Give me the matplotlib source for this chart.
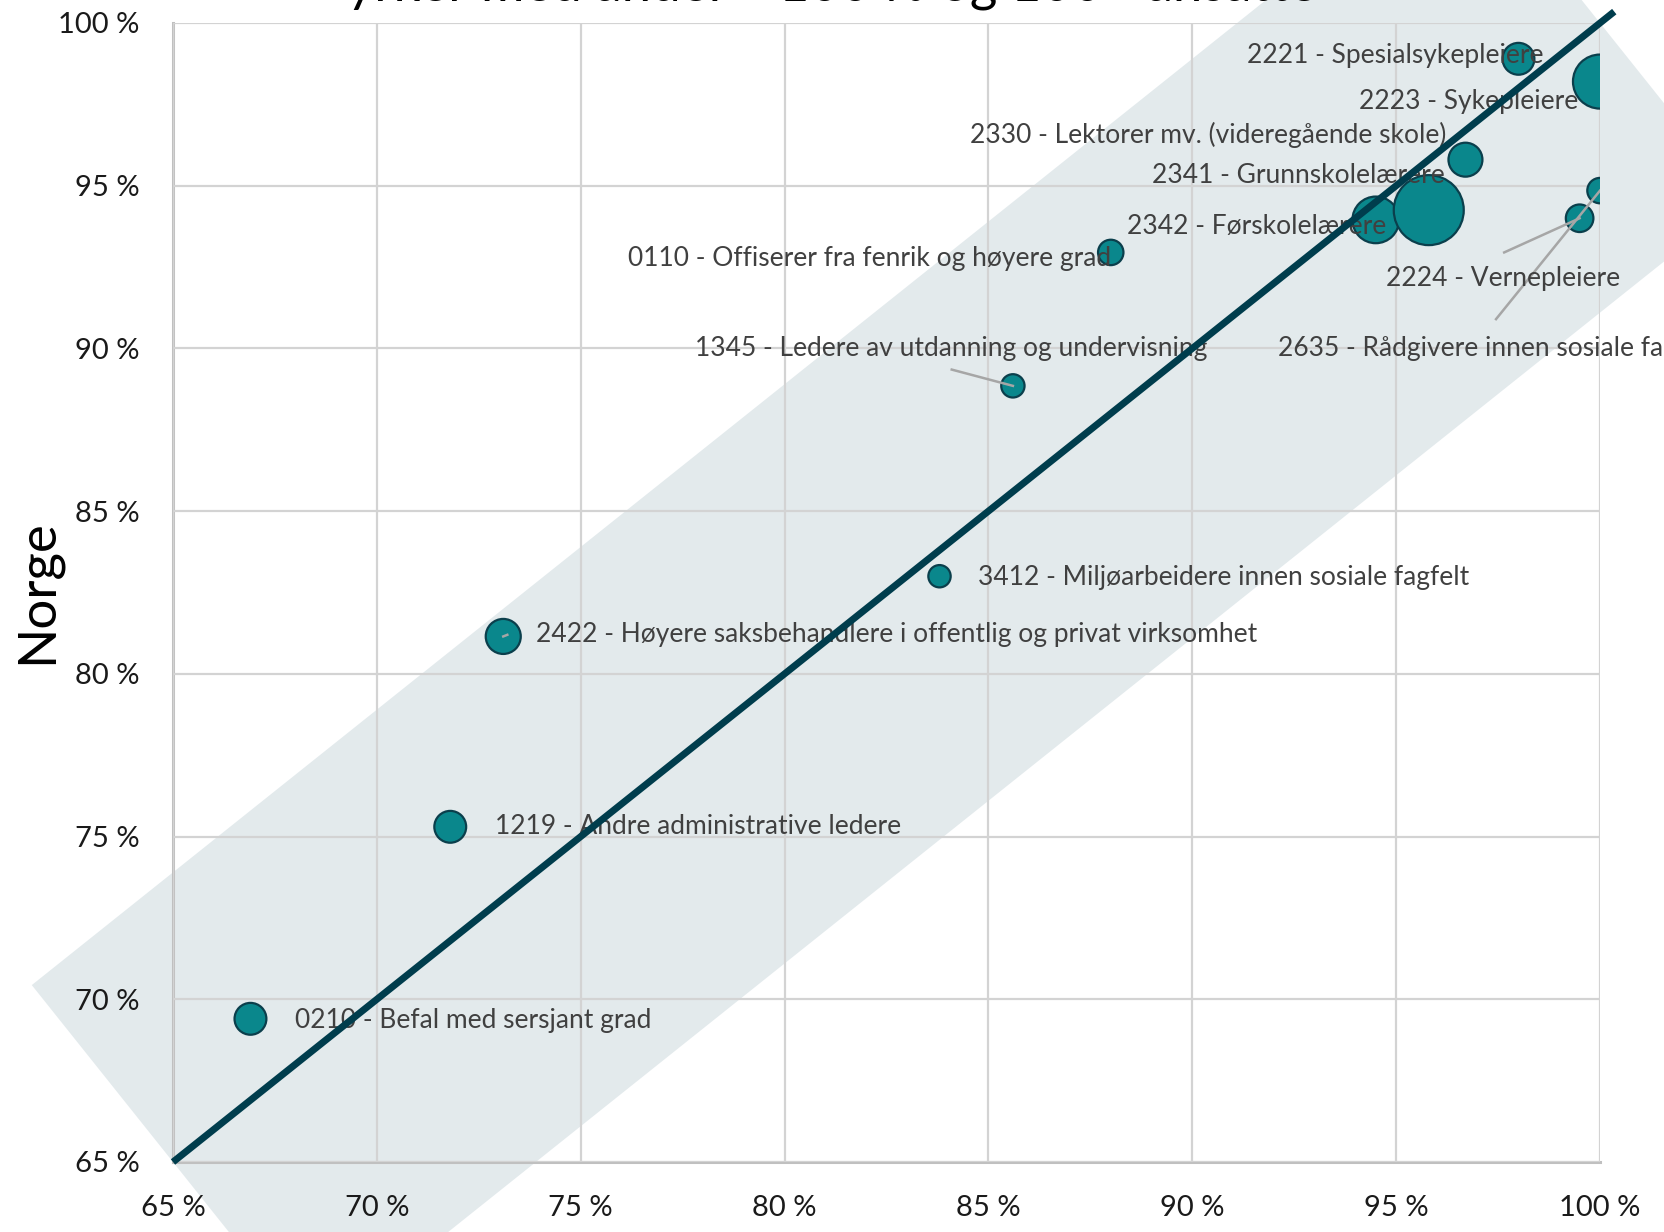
import numpy as np
import matplotlib
matplotlib.use('Agg')
import matplotlib.pyplot as plt
from matplotlib.patches import Polygon
from matplotlib.ticker import FuncFormatter

plt.rcParams['font.family'] = ['Lato', 'DejaVu Sans']

# yrker, andel for landet (x) og Norge (y), og antall ansatte (boblestørrelse)
yrker = [
    '0210 - Befal med sersjant grad',
    '1219 - Andre administrative ledere',
    '2422 - Høyere saksbehandlere i offentlig og privat virksomhet',
    '3412 - Miljøarbeidere innen sosiale fagfelt',
    '1345 - Ledere av utdanning og undervisning',
    '0110 - Offiserer fra fenrik og høyere grad',
    '2342 - Førskolelærere',
    '2341 - Grunnskolelærere',
    '2330 - Lektorer mv. (videregående skole)',
    '2221 - Spesialsykepleiere',
    '2223 - Sykepleiere',
    '2224 - Vernepleiere',
    '2635 - Rådgivere innen sosiale fagfelt',
]
andel_x = [66.9, 71.8, 73.1, 83.8, 85.6, 88.0, 94.5, 95.8, 96.7, 98.0, 100.0, 99.5, 100.0]
andel_norge = [69.4, 75.3, 81.15, 83.0, 88.85, 92.95, 93.95, 94.25, 95.8, 98.9, 98.2, 94.0, 94.85]
ansatte = [12400, 12400, 15000, 6100, 6650, 7900, 26600, 59900, 14100, 12400, 35700, 9300, 7900]

# plassering av etikettene (venstre kant, midt)
etikett_x = [68.0, 72.9, 73.9, 84.75, 77.8, 76.15, 88.4, 89.0, 84.55, 91.35, 94.1, 94.75, 92.1]
etikett_y = [69.35, 75.3, 81.2, 82.95, 90.0, 92.75, 93.75, 95.3, 96.55, 99.0, 97.6, 92.15, 90.0]
# startpunkt for tilknytningslinjer (None = ingen linje)
linje_fra = [None, None, (73.2, 81.2), None, (84.1, 89.35), None, None, None, None, None,
             None, (97.65, 92.95), (97.45, 90.9)]

ref_linje = [65, 100.35]
band_bredde = 8.9   # prosentpoeng, vertikalt
ticks = np.arange(65, 101, 5)

tittel = 'yrker med andel ≥ 100 % og 100+ ansatte'

fig = plt.figure(figsize=(16.64, 12.32), dpi=100)
ax = fig.add_axes([173/1664, 1-1162/1232, (1600-173)/1664, (1162-23)/1232])
ax.set_xlim(65, 100)
ax.set_ylim(65, 100)
ax.set_xticks(ticks)
ax.set_yticks(ticks)
fmt = FuncFormatter(lambda v, p: f'{v:.0f} %')
ax.xaxis.set_major_formatter(fmt)
ax.yaxis.set_major_formatter(fmt)
ax.tick_params(length=0, labelsize=21, colors='#1a1a1a')
ax.tick_params(axis='x', pad=24)
ax.tick_params(axis='y', pad=24)
ax.grid(True, color='#d3d3d3', lw=1.6)
ax.set_axisbelow(False)
for s in ['top', 'right']:
    ax.spines[s].set_visible(False)
for s in ['left', 'bottom']:
    ax.spines[s].set_color('#c0c0c0')
    ax.spines[s].set_linewidth(2.2)

# skyggelagt bånd rundt linjen, vinkelrett avsluttet i pikselrommet
p0 = ax.transData.transform((65, 65))
p1 = ax.transData.transform((100, 100))
u = (p1 - p0) / np.hypot(*(p1 - p0))
n = np.array([-u[1], u[0]])
dy = ax.transData.transform((65, 65 + band_bredde))[1] - p0[1]
w = dy * abs(u[0])
hjorner = np.array([p0 + w*n, p1 + w*n, p1 - w*n, p0 - w*n])
hjorner = ax.transData.inverted().transform(hjorner)
ax.add_patch(Polygon(hjorner, closed=True, facecolor='#b9cbd1', alpha=0.4,
                     edgecolor='none', zorder=1, clip_on=False))

sizes = np.array(ansatte) * 0.0424
ax.scatter(andel_x, andel_norge, s=sizes, color='#0a878c', edgecolor='#0b3f4c',
           linewidth=1.6, zorder=3)

for i, navn in enumerate(yrker):
    if linje_fra[i] is not None:
        ax.plot([linje_fra[i][0], andel_x[i]], [linje_fra[i][1], andel_norge[i]],
                color='#a6a6a6', lw=1.8, zorder=3.5)
    ax.text(etikett_x[i], etikett_y[i], navn, ha='left', va='center', fontsize=19,
            color='#404040', zorder=4, clip_on=False)

ax.plot(ref_linje, ref_linje, color='#003d4d', lw=5, zorder=5, clip_on=False,
        solid_capstyle='butt')

fig.text(37/1664, 1 - 592/1232, 'Norge', rotation=90, ha='center', va='center',
         fontsize=38, color='#000000')
fig.text(0.5, 1 - 1/1232, tittel, ha='center', va='baseline', fontsize=38, color='#000000')

fig.savefig('out.png', dpi=100)
